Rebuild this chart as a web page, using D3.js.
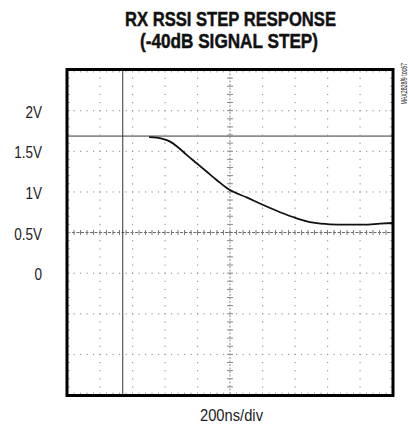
<!DOCTYPE html>
<html>
<head>
<meta charset="utf-8">
<script src="https://cdn.jsdelivr.net/npm/d3@7"></script>
<style>
  html, body { margin: 0; padding: 0; background: #fff; }
  svg { display: block; }
  .narrow { font-family: "Liberation Sans", Arial, Helvetica, sans-serif; }
</style>
</head>
<body>
<svg id="chart" width="408" height="427"></svg>
<script>
// Scope capture: RSSI output voltage vs time (200ns/div, 0.5V/div)
const titleLines = ["RX RSSI STEP RESPONSE", "(-40dB SIGNAL STEP)"];
const xAxisLabel = "200ns/div";
const sideNote = "MAX2828/9 toc67";

const timeNs = [502, 549, 631, 672, 733, 795, 857, 918, 980, 1000, 1103, 1205, 1308, 1410, 1513, 1615, 1718, 1820, 1923, 2000];
const rssiV  = [1.675, 1.667, 1.618, 1.562, 1.456, 1.352, 1.248, 1.146, 1.048, 1.023, 0.932, 0.838, 0.749, 0.675, 0.621, 0.601, 0.596, 0.596, 0.608, 0.617];

const yTickValues = [2, 1.5, 1, 0.5, 0];
const yTickLabels = ["2V", "1.5V", "1V", "0.5V", "0"];

const cursorTimeNs = 340;   // vertical trigger cursor
const cursorLevelV = 1.685; // horizontal level cursor
const centerTimeNs = 1000;
const centerLevelV = 0.5;

const timeDomain = [0, 2000];
const voltDomain = [-1.5, 2.5];
const divX = 10, divY = 8, minorPerDiv = 5;
const squeeze = 0.82; // condensed lettering

const svg = d3.select("#chart");
const x = d3.scaleLinear().domain(timeDomain).range([67.5, 392.5]);
const y = d3.scaleLinear().domain(voltDomain).range([395, 70]);

const xStep = (timeDomain[1] - timeDomain[0]) / divX;
const yStep = (voltDomain[1] - voltDomain[0]) / divY;
const xMajor = d3.range(divX + 1).map(i => timeDomain[0] + i * xStep);
const yMajor = d3.range(divY + 1).map(i => voltDomain[0] + i * yStep);
const xMinor = d3.range(divX * minorPerDiv + 1).map(i => timeDomain[0] + i * xStep / minorPerDiv);
const yMinor = d3.range(divY * minorPerDiv + 1).map(i => voltDomain[0] + i * yStep / minorPerDiv);

// Title (heavy condensed)
const title = svg.append("g").attr("class", "narrow")
  .attr("font-weight", "bold").attr("font-size", 20).attr("fill", "#111")
  .attr("stroke", "#111").attr("stroke-width", 0.45);
title.append("text").attr("x", 230.5).attr("y", 26).attr("text-anchor", "middle")
  .attr("textLength", 211).attr("lengthAdjust", "spacingAndGlyphs").text(titleLines[0]);
title.append("text").attr("x", 229).attr("y", 47.5).attr("text-anchor", "middle")
  .attr("textLength", 178).attr("lengthAdjust", "spacingAndGlyphs").text(titleLines[1]);

// Dotted graticule: one dot per minor step on each major line
const grid = svg.append("g").attr("fill", "#9a9a9a");
xMajor.slice(1, -1).forEach(t => {
  if (t === centerTimeNs) return;
  grid.selectAll(null).data(yMinor).join("rect")
    .attr("x", x(t) - 0.5).attr("y", d => y(d) - 0.5).attr("width", 1.2).attr("height", 1.2);
});
yMajor.slice(1, -1).forEach(v => {
  if (v === centerLevelV) return;
  grid.selectAll(null).data(xMinor).join("rect")
    .attr("x", d => x(d) - 0.5).attr("y", y(v) - 0.5).attr("width", 1.2).attr("height", 1.2);
});

// Center axes with minor tick marks
const center = svg.append("g").attr("stroke", "#8a8a8a").attr("stroke-width", 1);
center.append("line").attr("x1", x(centerTimeNs)).attr("x2", x(centerTimeNs))
  .attr("y1", y.range()[1]).attr("y2", y.range()[0]).attr("stroke-dasharray", "2,1.5");
center.selectAll(null).data(yMinor).join("line")
  .attr("x1", x(centerTimeNs) - 3).attr("x2", x(centerTimeNs) + 3)
  .attr("y1", d => y(d)).attr("y2", d => y(d));
center.append("line").attr("y1", y(centerLevelV)).attr("y2", y(centerLevelV))
  .attr("x1", x.range()[0]).attr("x2", x.range()[1]).attr("stroke-dasharray", "3,1.5")
  .attr("stroke", "#6a6a6a");
center.selectAll(null).data(xMinor).join("line")
  .attr("y1", y(centerLevelV) - 2.5).attr("y2", y(centerLevelV) + 2.5)
  .attr("x1", d => x(d)).attr("x2", d => x(d)).attr("stroke", "#7a7a7a");

// Small ticks along the inside of the frame
const edge = svg.append("g").attr("stroke", "#aaa").attr("stroke-width", 1);
edge.selectAll(null).data(yMinor).join("line")
  .attr("x1", x.range()[0]).attr("x2", x.range()[0] + 2.5).attr("y1", d => y(d)).attr("y2", d => y(d));
edge.selectAll(null).data(yMinor).join("line")
  .attr("x1", x.range()[1] - 2.5).attr("x2", x.range()[1]).attr("y1", d => y(d)).attr("y2", d => y(d));
edge.selectAll(null).data(xMinor).join("line")
  .attr("y1", y.range()[1]).attr("y2", y.range()[1] + 2.5).attr("x1", d => x(d)).attr("x2", d => x(d));
edge.selectAll(null).data(xMinor).join("line")
  .attr("y1", y.range()[0] - 2.5).attr("y2", y.range()[0]).attr("x1", d => x(d)).attr("x2", d => x(d));

// Cursors
svg.append("line").attr("x1", x.range()[0]).attr("x2", x.range()[1])
  .attr("y1", y(cursorLevelV)).attr("y2", y(cursorLevelV))
  .attr("stroke", "#8c8c8c").attr("stroke-width", 1.7);
svg.append("line").attr("x1", x(cursorTimeNs)).attr("x2", x(cursorTimeNs))
  .attr("y1", y.range()[1]).attr("y2", y.range()[0])
  .attr("stroke", "#333").attr("stroke-width", 1);

// Trace
const trace = timeNs.map((t, i) => [t, rssiV[i]]);
svg.append("path").datum(trace)
  .attr("fill", "none").attr("stroke", "#111").attr("stroke-width", 1.8)
  .attr("stroke-linejoin", "round")
  .attr("d", d3.line().x(d => x(d[0])).y(d => y(d[1])).curve(d3.curveMonotoneX));

// Frame
svg.append("rect")
  .attr("x", x.range()[0] - 0.5).attr("y", y.range()[1] - 0.5)
  .attr("width", x.range()[1] - x.range()[0] + 1).attr("height", y.range()[0] - y.range()[1] + 1)
  .attr("fill", "none").attr("stroke", "#000").attr("stroke-width", 3);

// Voltage labels
svg.append("g").attr("class", "narrow").attr("font-size", 16.5).attr("fill", "#222")
  .selectAll("text").data(yTickValues).join("text")
  .attr("transform", d => `translate(42,${y(d) + 7}) scale(${squeeze},1)`)
  .attr("text-anchor", "end")
  .text((d, i) => yTickLabels[i]);

// Time base label
svg.append("text").attr("class", "narrow").attr("font-size", 16.5).attr("fill", "#222")
  .attr("x", 231.5).attr("y", 421).attr("text-anchor", "middle")
  .attr("textLength", 63).attr("lengthAdjust", "spacingAndGlyphs").text(xAxisLabel);

// Figure code along the right edge
svg.append("text").attr("class", "narrow").attr("font-size", 9.5).attr("fill", "#222")
  .attr("transform", "translate(406.5,104.5) rotate(-90)")
  .attr("textLength", 41.5).attr("lengthAdjust", "spacingAndGlyphs").text(sideNote);
</script>
</body>
</html>
